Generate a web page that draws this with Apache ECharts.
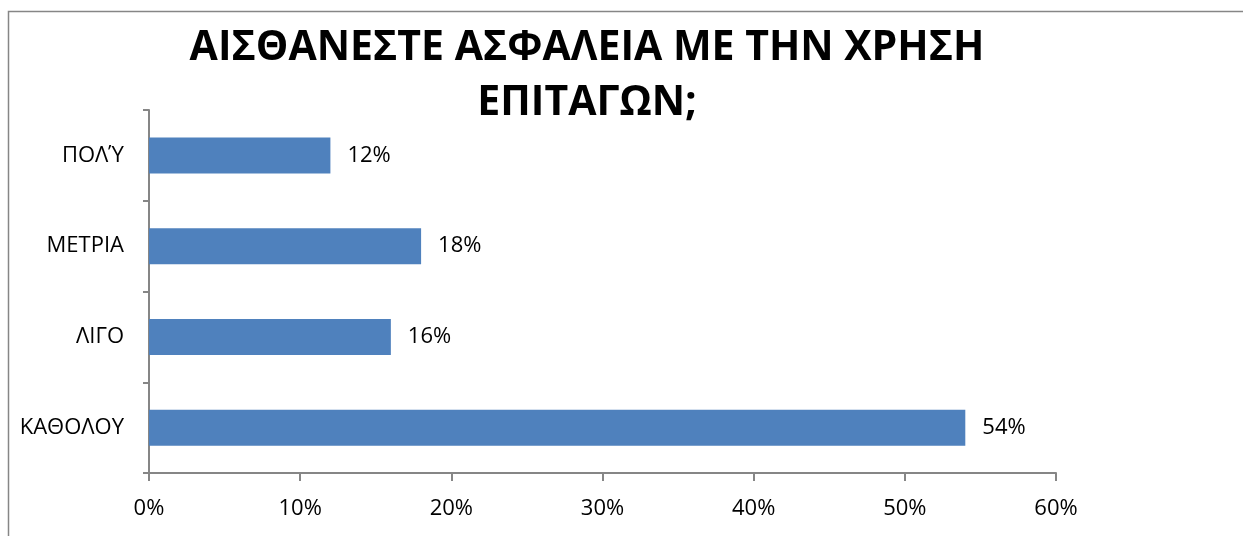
<!DOCTYPE html>
<html>
<head>
<meta charset="utf-8">
<script src="https://cdn.jsdelivr.net/npm/echarts@6/dist/echarts.min.js"></script>
<style>
  html, body { margin: 0; padding: 0; background: #ffffff; }
  #chart { width: 1243px; height: 536px; }
</style>
</head>
<body>
<div id="chart"></div>
<script>
// Survey answers, listed bottom to top
const categories = ['ΚΑΘΟΛΟΥ', 'ΛΙΓΟ', 'ΜΕΤΡΙΑ', 'ΠΟΛΎ'];
const percentages = [54, 16, 18, 12];
const xTicks = [0, 10, 20, 30, 40, 50, 60];

const chartTitle = 'ΑΙΣΘΑΝΕΣΤΕ ΑΣΦΑΛΕΙΑ ΜΕ ΤΗΝ ΧΡΗΣΗ\nΕΠΙΤΑΓΩΝ;';
const fontFamily = '"Open Sans", "Noto Sans", sans-serif';
const axisGray = '#868686';

const chart = echarts.init(document.getElementById('chart'), null, { renderer: 'canvas' });

chart.setOption({
  backgroundColor: '#ffffff',
  animation: false,
  title: {
    text: chartTitle,
    left: 582,
    textAlign: 'center',
    top: 16,
    textStyle: {
      fontFamily: fontFamily,
      fontWeight: 'bold',
      fontSize: 41,
      lineHeight: 55,
      color: '#000000'
    }
  },
  graphic: [{
    type: 'rect',
    shape: { x: 8.5, y: 11.5, width: 1300, height: 600 },
    style: { fill: 'none', stroke: axisGray, lineWidth: 1.5 },
    silent: true,
    z: -1
  }],
  grid: {
    left: 149,
    right: 187,
    top: 110,
    bottom: 63,
    containLabel: false
  },
  xAxis: {
    type: 'value',
    min: xTicks[0],
    max: xTicks[xTicks.length - 1],
    interval: 10,
    axisLine: { show: true, lineStyle: { color: axisGray, width: 2 } },
    axisTick: { show: true, length: 8, lineStyle: { color: axisGray, width: 2 } },
    splitLine: { show: false },
    axisLabel: {
      formatter: '{value}%',
      margin: 25,
      fontFamily: fontFamily,
      fontSize: 22,
      color: '#000000'
    }
  },
  yAxis: {
    type: 'category',
    data: categories,
    boundaryGap: true,
    axisLine: { show: true, lineStyle: { color: axisGray, width: 2 } },
    axisTick: { show: true, length: 6, alignWithLabel: false, lineStyle: { color: axisGray, width: 2 } },
    axisLabel: {
      margin: 25,
      fontFamily: fontFamily,
      fontSize: 22,
      color: '#000000'
    }
  },
  series: [{
    type: 'bar',
    data: percentages,
    barWidth: 36,
    itemStyle: { color: '#4F81BD' },
    label: {
      show: true,
      position: 'right',
      distance: 17,
      formatter: '{c}%',
      fontFamily: fontFamily,
      fontSize: 22,
      color: '#000000'
    }
  }]
});
</script>
</body>
</html>
